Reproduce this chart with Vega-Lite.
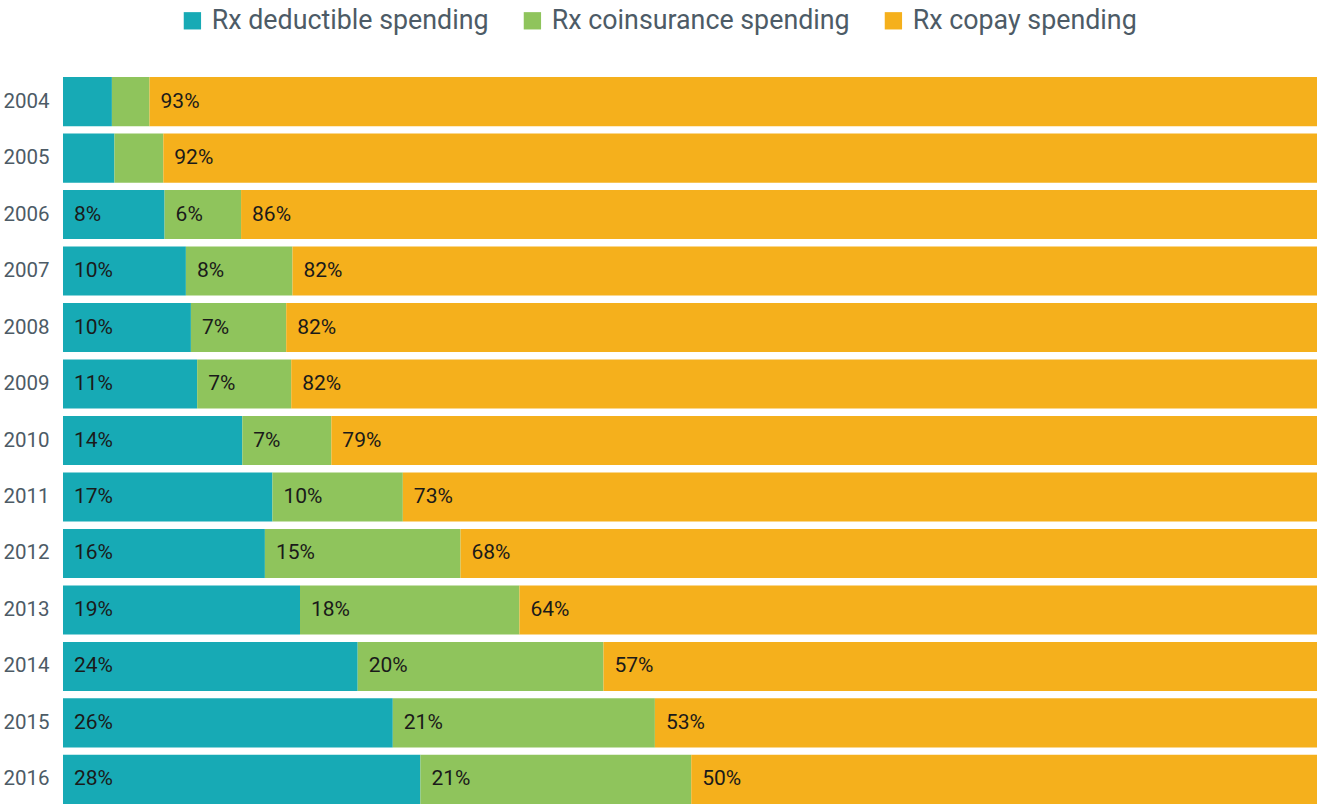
{
  "$schema": "https://vega.github.io/schema/vega-lite/v6.json",
  "width": 1254,
  "height": 727,
  "autosize": {"type": "none"},
  "padding": {"left": 63, "top": 77, "right": 0, "bottom": 0},
  "background": "white",
  "config": {"view": {"stroke": null}, "font": "Roboto"},
  "data": {"values": [
    {"year":"2004","category":"Rx deductible spending","idx":1,"value":3.9,"label":""},
    {"year":"2004","category":"Rx coinsurance spending","idx":2,"value":3.0,"label":""},
    {"year":"2004","category":"Rx copay spending","idx":3,"value":93.1,"label":"93%"},
    {"year":"2005","category":"Rx deductible spending","idx":1,"value":4.1,"label":""},
    {"year":"2005","category":"Rx coinsurance spending","idx":2,"value":3.9,"label":""},
    {"year":"2005","category":"Rx copay spending","idx":3,"value":92.0,"label":"92%"},
    {"year":"2006","category":"Rx deductible spending","idx":1,"value":8.1,"label":"8%"},
    {"year":"2006","category":"Rx coinsurance spending","idx":2,"value":6.1,"label":"6%"},
    {"year":"2006","category":"Rx copay spending","idx":3,"value":85.8,"label":"86%"},
    {"year":"2007","category":"Rx deductible spending","idx":1,"value":9.8,"label":"10%"},
    {"year":"2007","category":"Rx coinsurance spending","idx":2,"value":8.5,"label":"8%"},
    {"year":"2007","category":"Rx copay spending","idx":3,"value":81.7,"label":"82%"},
    {"year":"2008","category":"Rx deductible spending","idx":1,"value":10.2,"label":"10%"},
    {"year":"2008","category":"Rx coinsurance spending","idx":2,"value":7.6,"label":"7%"},
    {"year":"2008","category":"Rx copay spending","idx":3,"value":82.2,"label":"82%"},
    {"year":"2009","category":"Rx deductible spending","idx":1,"value":10.7,"label":"11%"},
    {"year":"2009","category":"Rx coinsurance spending","idx":2,"value":7.5,"label":"7%"},
    {"year":"2009","category":"Rx copay spending","idx":3,"value":81.8,"label":"82%"},
    {"year":"2010","category":"Rx deductible spending","idx":1,"value":14.3,"label":"14%"},
    {"year":"2010","category":"Rx coinsurance spending","idx":2,"value":7.1,"label":"7%"},
    {"year":"2010","category":"Rx copay spending","idx":3,"value":78.6,"label":"79%"},
    {"year":"2011","category":"Rx deductible spending","idx":1,"value":16.7,"label":"17%"},
    {"year":"2011","category":"Rx coinsurance spending","idx":2,"value":10.4,"label":"10%"},
    {"year":"2011","category":"Rx copay spending","idx":3,"value":72.9,"label":"73%"},
    {"year":"2012","category":"Rx deductible spending","idx":1,"value":16.1,"label":"16%"},
    {"year":"2012","category":"Rx coinsurance spending","idx":2,"value":15.6,"label":"15%"},
    {"year":"2012","category":"Rx copay spending","idx":3,"value":68.3,"label":"68%"},
    {"year":"2013","category":"Rx deductible spending","idx":1,"value":18.9,"label":"19%"},
    {"year":"2013","category":"Rx coinsurance spending","idx":2,"value":17.5,"label":"18%"},
    {"year":"2013","category":"Rx copay spending","idx":3,"value":63.6,"label":"64%"},
    {"year":"2014","category":"Rx deductible spending","idx":1,"value":23.5,"label":"24%"},
    {"year":"2014","category":"Rx coinsurance spending","idx":2,"value":19.6,"label":"20%"},
    {"year":"2014","category":"Rx copay spending","idx":3,"value":56.9,"label":"57%"},
    {"year":"2015","category":"Rx deductible spending","idx":1,"value":26.3,"label":"26%"},
    {"year":"2015","category":"Rx coinsurance spending","idx":2,"value":20.9,"label":"21%"},
    {"year":"2015","category":"Rx copay spending","idx":3,"value":52.8,"label":"53%"},
    {"year":"2016","category":"Rx deductible spending","idx":1,"value":28.5,"label":"28%"},
    {"year":"2016","category":"Rx coinsurance spending","idx":2,"value":21.6,"label":"21%"},
    {"year":"2016","category":"Rx copay spending","idx":3,"value":49.9,"label":"50%"}
  ]},
  "transform": [
    {"stack": "value", "groupby": ["year"], "sort": [{"field": "idx", "order": "ascending"}], "as": ["v0", "v1"]}
  ],
  "encoding": {
    "y": {
      "field": "year", "type": "nominal", "sort": "ascending",
      "scale": {"paddingInner": 0.13, "paddingOuter": 0},
      "axis": {"title": null, "domain": false, "ticks": false, "labelFontSize": 20.5, "labelColor": "#4d5b66", "labelPadding": 14, "labelFont": "Roboto"}
    }
  },
  "layer": [
    {
      "mark": {"type": "bar"},
      "encoding": {
        "x": {"field": "v0", "type": "quantitative", "scale": {"domain": [0, 100], "nice": false}, "axis": null},
        "x2": {"field": "v1"},
        "color": {
          "field": "category", "type": "nominal",
          "scale": {"domain": ["Rx deductible spending", "Rx coinsurance spending", "Rx copay spending"], "range": ["#17aab5", "#8fc45c", "#f5b01c"]},
          "legend": {"title": null, "orient": "none", "legendX": 116, "legendY": -70, "direction": "horizontal", "symbolType": "square", "symbolSize": 300, "symbolStrokeWidth": 0, "labelFontSize": 26.8, "labelLimit": 0, "labelColor": "#4d5b66", "labelFont": "Roboto", "columnPadding": 30, "labelOffset": 6}
        }
      }
    },
    {
      "mark": {"type": "text", "align": "left", "baseline": "middle", "dx": 11, "fontSize": 21, "color": "#1a1a1a", "font": "Roboto"},
      "encoding": {
        "x": {"field": "v0", "type": "quantitative"},
        "text": {"field": "label"}
      }
    }
  ]
}
